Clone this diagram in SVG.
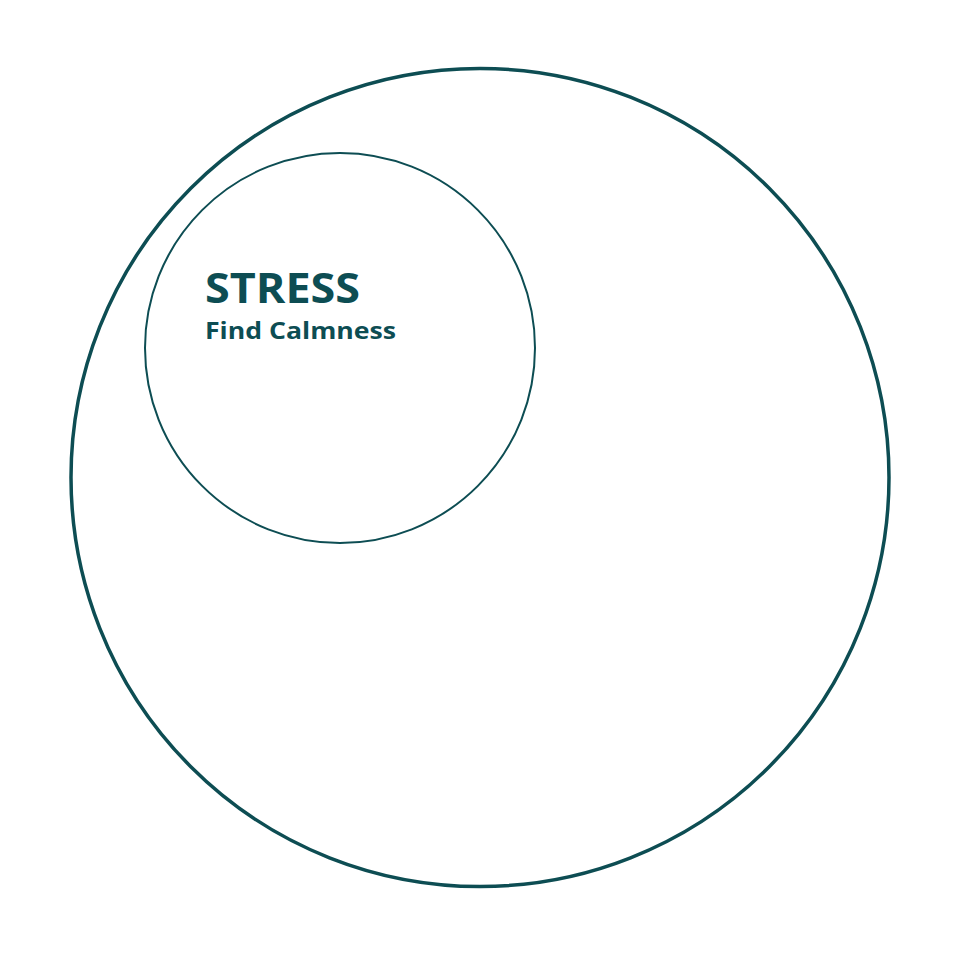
<svg xmlns="http://www.w3.org/2000/svg" width="960" height="960" viewBox="0 0 960 960">
<style>
.ring{fill:none;stroke:#0d4d53}
.t{fill:#0d4d53;font-family:"Open Sans","Lato","Liberation Sans",sans-serif;font-weight:700}
</style>
<rect width="960" height="960" fill="#ffffff"/>
<g id="outer"><circle class="ring" cx="480" cy="477.5" r="409" stroke-width="3.5"/></g>
<g id="stress">
<circle class="ring" cx="340" cy="348" r="195" stroke-width="2"/>
<text class="t" x="205" y="303" font-size="42" textLength="155" lengthAdjust="spacingAndGlyphs">STRESS</text>
<text class="t" x="205" y="339" font-size="22.5" textLength="191" lengthAdjust="spacingAndGlyphs">Find Calmness</text>
</g>
<g id="connectors"/>
</svg>
